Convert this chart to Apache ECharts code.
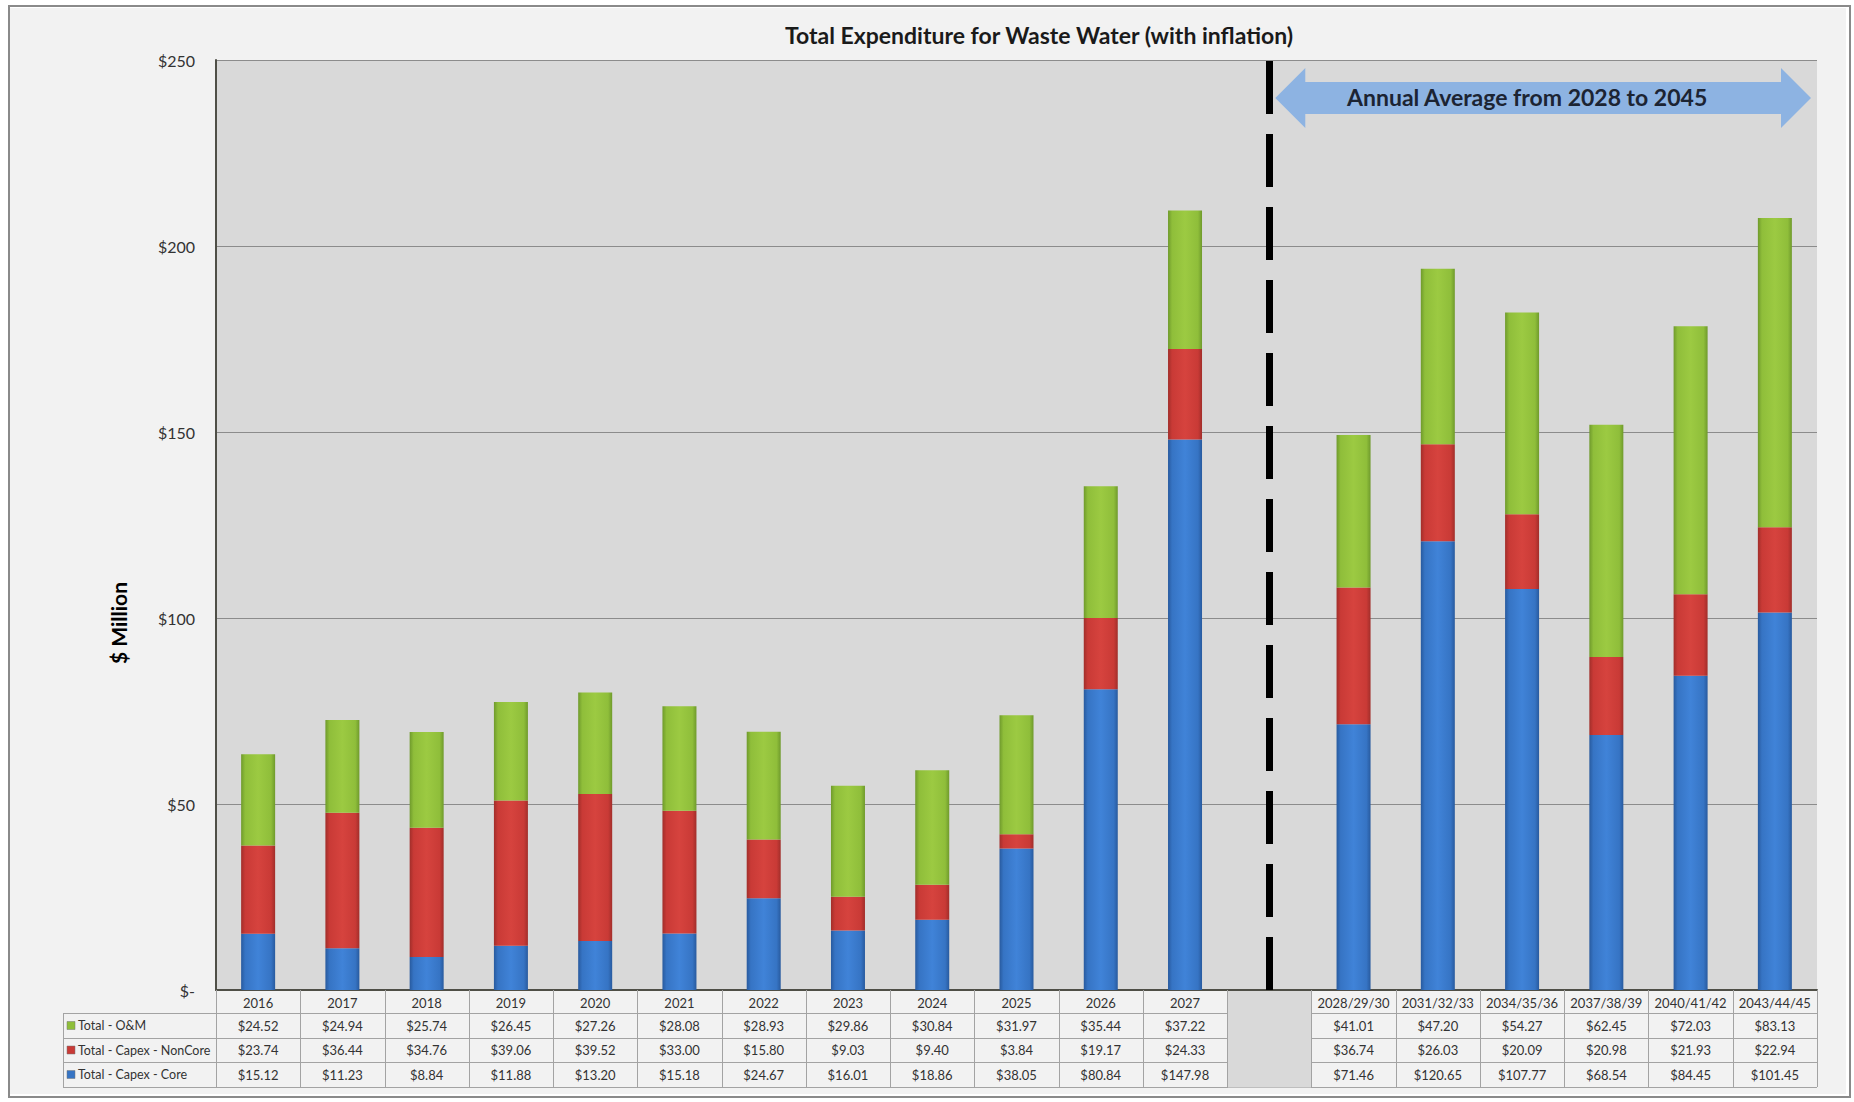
<!DOCTYPE html>
<html>
<head>
<meta charset="utf-8">
<title>Total Expenditure for Waste Water (with inflation)</title>
<script src="https://cdn.jsdelivr.net/npm/echarts@6/dist/echarts.min.js"></script>
<style>
  html, body { margin: 0; padding: 0; background: #fff; }
  #chart { width: 1854px; height: 1102px; }
</style>
</head>
<body>
<div id="chart"></div>
<script>
// x slots: 12 single years, one empty slot for the divider, then 3-year averages
const periods = ['2016', '2017', '2018', '2019', '2020', '2021', '2022', '2023', '2024', '2025', '2026', '2027',
  '', '2028/29/30', '2031/32/33', '2034/35/36', '2037/38/39', '2040/41/42', '2043/44/45'];
const omValues = [24.52, 24.94, 25.74, 26.45, 27.26, 28.08, 28.93, 29.86, 30.84, 31.97, 35.44, 37.22,
  null, 41.01, 47.20, 54.27, 62.45, 72.03, 83.13];
const nonCoreValues = [23.74, 36.44, 34.76, 39.06, 39.52, 33.00, 15.80, 9.03, 9.40, 3.84, 19.17, 24.33,
  null, 36.74, 26.03, 20.09, 20.98, 21.93, 22.94];
const coreValues = [15.12, 11.23, 8.84, 11.88, 13.20, 15.18, 24.67, 16.01, 18.86, 38.05, 80.84, 147.98,
  null, 71.46, 120.65, 107.77, 68.54, 84.45, 101.45];
const dividerIndex = 12;
const seriesNames = ['Total - O&M', 'Total - Capex - NonCore', 'Total - Capex - Core'];

const FONT = 'Lato, "Open Sans", sans-serif';

// excel-ish bevel: darker edges, lighter middle
function barFill(edge, mid, light) {
  return {
    type: 'linear', x: 0, y: 0, x2: 1, y2: 0,
    colorStops: [
      { offset: 0, color: edge },
      { offset: 0.12, color: mid },
      { offset: 0.5, color: light },
      { offset: 0.88, color: mid },
      { offset: 1, color: edge }
    ]
  };
}
const greenFill = barFill('#6f9a2c', '#8fbe3a', '#9cca42');
const redFill = barFill('#a12e2a', '#c93a36', '#d6433e');
const blueFill = barFill('#285a9e', '#3674c4', '#4083d8');
const legendColors = ['#8fbe3a', '#c93a36', '#3674c4'];

const chart = echarts.init(document.getElementById('chart'), null, { renderer: 'svg' });

const grid = { left: 216, right: 37, top: 60, bottom: 112 };

let option = {
  backgroundColor: '#f2f2f2',
  animation: false,
  title: {
    text: 'Total Expenditure for Waste Water (with inflation)',
    left: 1034,
    top: 18,
    textAlign: 'center',
    textStyle: { fontFamily: FONT, fontSize: 23, fontWeight: 'bold', color: '#1a1a1a' }
  },
  grid: {
    left: grid.left, right: grid.right, top: grid.top, bottom: grid.bottom,
    show: true, backgroundColor: '#d9d9d9', borderWidth: 0
  },
  xAxis: {
    type: 'category',
    data: periods,
    axisLine: { lineStyle: { color: '#4f4f47', width: 2 } },
    axisTick: { show: false },
    axisLabel: { show: false }
  },
  yAxis: {
    type: 'value',
    min: 0,
    max: 250,
    interval: 50,
    axisLine: { show: true, lineStyle: { color: '#4f4f47', width: 2 } },
    axisTick: { show: false },
    splitLine: { lineStyle: { color: '#8c8c8c', width: 1 } },
    axisLabel: {
      margin: 21,
      fontFamily: FONT,
      fontSize: 16,
      color: '#333',
      formatter: function (v) { return v === 0 ? '$-' : '$' + v; }
    }
  },
  series: [
    {
      name: seriesNames[2], type: 'bar', stack: 'total', data: coreValues, barWidth: 34,
      itemStyle: { color: blueFill },
      markLine: {
        silent: true,
        symbol: 'none',
        label: { show: false },
        lineStyle: { color: '#000', width: 7, type: [53, 20] },
        data: [{ xAxis: dividerIndex }]
      }
    },
    { name: seriesNames[1], type: 'bar', stack: 'total', data: nonCoreValues, barWidth: 34, itemStyle: { color: redFill } },
    { name: seriesNames[0], type: 'bar', stack: 'total', data: omValues, barWidth: 34, itemStyle: { color: greenFill } }
  ]
};
chart.setOption(option);

// data table, divider arrow and frame
function drawExtras() {
  const x0 = chart.convertToPixel({ xAxisIndex: 0 }, 0);
  const x1 = chart.convertToPixel({ xAxisIndex: 0 }, 1);
  const slot = x1 - x0;
  const left = grid.left;
  const right = 1854 - grid.right;
  const zeroY = chart.convertToPixel({ yAxisIndex: 0 }, 0);
  const topY = chart.convertToPixel({ yAxisIndex: 0 }, 250);
  const rowH = [23, 25, 24, 25];
  const rowTop = [zeroY];
  for (let i = 0; i < rowH.length; i++) rowTop.push(rowTop[i] + rowH[i]);
  const tableBottom = rowTop[4];
  const legendLeft = 63;
  const els = [];
  const lineStyle = { stroke: '#a3a3a3', lineWidth: 1 };

  // horizontal rules
  for (let r = 1; r <= 4; r++) {
    els.push({ type: 'line', z: 50, shape: { x1: legendLeft, y1: rowTop[r] + 0.5, x2: right, y2: rowTop[r] + 0.5 }, style: lineStyle });
  }
  // vertical rules
  for (let k = 0; k <= periods.length; k++) {
    const x = Math.round(left + k * slot) + 0.5;
    els.push({ type: 'line', z: 50, shape: { x1: x, y1: zeroY, x2: x, y2: tableBottom }, style: lineStyle });
  }
  els.push({ type: 'line', z: 50, shape: { x1: legendLeft + 0.5, y1: rowTop[1], x2: legendLeft + 0.5, y2: tableBottom }, style: lineStyle });

  // blank divider column
  els.push({
    type: 'rect', z: 60,
    shape: { x: Math.round(left + dividerIndex * slot) + 1, y: zeroY + 1, width: Math.round(slot) - 1, height: tableBottom - zeroY - 0.5 },
    style: { fill: '#d9d9d9' }
  });

  const rows = [omValues, nonCoreValues, coreValues];
  periods.forEach(function (p, i) {
    if (i === dividerIndex) return;
    const cx = chart.convertToPixel({ xAxisIndex: 0 }, i);
    els.push({
      type: 'text', z: 70,
      style: { text: p, x: cx, y: (rowTop[0] + rowTop[1]) / 2 + 1, textAlign: 'center', textVerticalAlign: 'middle',
        font: '13px ' + FONT, fill: '#333' }
    });
    rows.forEach(function (vals, r) {
      els.push({
        type: 'text', z: 70,
        style: { text: '$' + vals[i].toFixed(2), x: cx, y: (rowTop[r + 1] + rowTop[r + 2]) / 2, textAlign: 'center', textVerticalAlign: 'middle',
          font: '13px ' + FONT, fill: '#333' }
      });
    });
  });

  // legend keys in the first table column
  seriesNames.forEach(function (name, r) {
    const cy = (rowTop[r + 1] + rowTop[r + 2]) / 2;
    els.push({ type: 'rect', z: 70, shape: { x: legendLeft + 4, y: cy - 4, width: 8, height: 8 },
      style: { fill: legendColors[r], stroke: '#777', lineWidth: 0.5 } });
    els.push({ type: 'text', z: 70,
      style: { text: name, x: legendLeft + 15, y: cy, textAlign: 'left', textVerticalAlign: 'middle', font: '12.5px ' + FONT, fill: '#333' } });
  });

  // double-headed arrow right of the divider
  const divX = chart.convertToPixel({ xAxisIndex: 0 }, dividerIndex);
  const aL = divX + 6, aR = right - 6, aC = topY + 38, head = 30, hh = 30, sh = 16;
  els.push({
    type: 'polygon', z: 80,
    shape: { points: [
      [aL, aC], [aL + head, aC - hh], [aL + head, aC - sh], [aR - head, aC - sh], [aR - head, aC - hh],
      [aR, aC], [aR - head, aC + hh], [aR - head, aC + sh], [aL + head, aC + sh], [aL + head, aC + hh]
    ] },
    style: { fill: '#8db3e2' }
  });
  els.push({ type: 'text', z: 81,
    style: { text: 'Annual Average from 2028 to 2045', x: (aL + aR) / 2 - 16, y: aC - 1, textAlign: 'center', textVerticalAlign: 'middle',
      font: 'bold 23px ' + FONT, fill: '#1c2433' } });

  // axis title
  els.push({ type: 'text', z: 70, x: 118, y: 623, rotation: Math.PI / 2,
    style: { text: '$ Million', x: 0, y: 0, textAlign: 'center', textVerticalAlign: 'middle', font: 'bold 21px ' + FONT, fill: '#000' } });

  // outer frame
  els.push({ type: 'rect', z: 90, shape: { x: 0, y: 0, width: 1854, height: 1102 }, style: { fill: 'none', stroke: '#fff', lineWidth: 16 } });
  els.push({ type: 'rect', z: 91, shape: { x: 9, y: 6, width: 1841, height: 1091 }, style: { fill: 'none', stroke: '#8a8a8a', lineWidth: 2 } });

  chart.setOption({ graphic: { elements: els } });
}
drawExtras();

window.addEventListener('resize', function () {
  chart.resize();
});
</script>
</body>
</html>
